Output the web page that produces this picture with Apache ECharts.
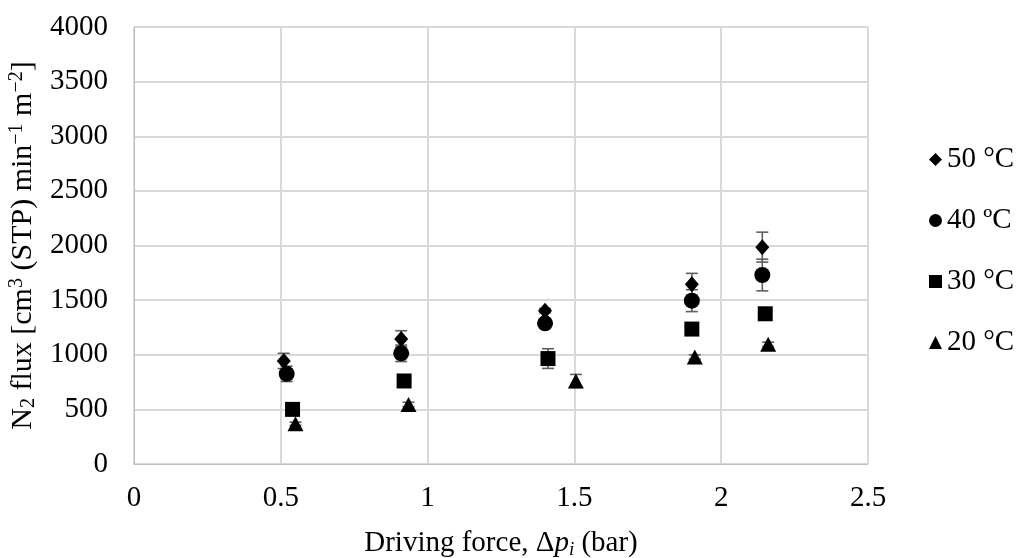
<!DOCTYPE html>
<html><head><meta charset="utf-8">
<script src="https://cdn.jsdelivr.net/npm/echarts@6/dist/echarts.min.js"></script>
<style>html,body{margin:0;padding:0;background:#fff}#c{width:1022px;height:558px}</style>
</head><body><div id="c"></div>
<script>
const seriesNames = ['50 °C', '40 ºC', '30 °C', '20 °C'];
const x50 = [0.51, 0.91, 1.40, 1.90, 2.14];
const y50 = [943, 1145, 1403, 1645, 1985];
const e50 = [70, 75, 20, 100, 137];
const x40 = [0.52, 0.91, 1.40, 1.90, 2.14];
const y40 = [825, 1013, 1288, 1495, 1730];
const e40 = [70, 75, 20, 100, 145];
const x30 = [0.54, 0.92, 1.41, 1.90, 2.15];
const y30 = [500, 760, 965, 1235, 1375];
const e30 = [20, 20, 90, 20, 20];
const x20 = [0.55, 0.935, 1.505, 1.91, 2.16];
const y20 = [368, 545, 760, 980, 1095];
const e20 = [15, 20, 60, 20, 20];
const xTicks = [0, 0.5, 1, 1.5, 2, 2.5];
const yTicks = [0, 500, 1000, 1500, 2000, 2500, 3000, 3500, 4000];

const groups = [
  {name: seriesNames[0], x: x50, y: y50, e: e50, symbol: 'diamond', size: [14, 16]},
  {name: seriesNames[1], x: x40, y: y40, e: e40, symbol: 'circle', size: 16},
  {name: seriesNames[2], x: x30, y: y30, e: e30, symbol: 'rect', size: 15},
  {name: seriesNames[3], x: x20, y: y20, e: e20, symbol: 'triangle', size: [16, 15]}
];
const font = 'Liberation Serif';
const FS = 29;
const series = [];
groups.forEach(g => {
  series.push({
    type: 'custom', name: g.name + '_err', z: 1, silent: true,
    data: g.x.map((v, i) => [v, g.y[i] - g.e[i], g.y[i] + g.e[i]]),
    renderItem: function (params, api) {
      const lo = api.coord([api.value(0), api.value(1)]);
      const hi = api.coord([api.value(0), api.value(2)]);
      const w = 6;
      const st = {stroke: '#5f5f5f', lineWidth: 1.6};
      return {type: 'group', children: [
        {type: 'line', shape: {x1: lo[0], y1: lo[1], x2: hi[0], y2: hi[1]}, style: st},
        {type: 'line', shape: {x1: lo[0] - w, y1: lo[1], x2: lo[0] + w, y2: lo[1]}, style: st},
        {type: 'line', shape: {x1: hi[0] - w, y1: hi[1], x2: hi[0] + w, y2: hi[1]}, style: st}
      ]};
    }
  });
  series.push({
    type: 'scatter', name: g.name, symbol: g.symbol, symbolSize: g.size, z: 3,
    itemStyle: {color: '#000', opacity: 1},
    data: g.x.map((v, i) => [v, g.y[i]])
  });
});

const chart = echarts.init(document.getElementById('c'), null, {renderer: 'canvas'});
chart.setOption({
  animation: false,
  backgroundColor: '#fff',
  textStyle: {fontFamily: font},
  grid: {left: 134, right: 154, top: 27, bottom: 94, containLabel: false, outerBoundsMode: 'none'},
  legend: {
    orient: 'vertical', left: 924, top: 140, itemGap: 32,
    itemWidth: 13, itemHeight: 13,
    data: groups.map(g => ({name: g.name, icon: g.symbol})),
    textStyle: {fontFamily: font, fontSize: FS, color: '#000', padding: [0, 0, 0, 0]}
  },
  xAxis: {
    type: 'value', min: xTicks[0], max: xTicks[xTicks.length - 1], interval: 0.5,
    axisLine: {show: true, lineStyle: {color: '#bfbfbf', width: 1}},
    axisTick: {show: false},
    splitLine: {show: true, lineStyle: {color: '#d9d9d9', width: 2}},
    axisLabel: {fontFamily: font, fontSize: FS, color: '#000', margin: 20},
    name: '{n|Driving force, Δ}{i|p}{s|i}{n| (bar)}',
    nameLocation: 'middle', nameGap: 64,
    nameTextStyle: {rich: {
      n: {fontFamily: font, fontSize: FS, color: '#000'},
      i: {fontFamily: font, fontSize: FS, color: '#000', fontStyle: 'italic'},
      s: {fontFamily: font, fontSize: 19, color: '#000', fontStyle: 'italic', padding: [12, 0, 0, 0]}
    }}
  },
  yAxis: {
    type: 'value', min: 0, max: 4000, interval: 500,
    axisLine: {show: true, lineStyle: {color: '#bfbfbf', width: 1}},
    axisTick: {show: false},
    splitLine: {show: true, lineStyle: {color: '#d9d9d9', width: 2}},
    axisLabel: {fontFamily: font, fontSize: FS, color: '#000', margin: 26, formatter: v => String(v)},
    name: '{n|N}{b|2}{n| flux [cm}{t|3}{n| (STP) min}{t|−1}{n| m}{t|−2}{n|]}',
    nameLocation: 'middle', nameGap: 87, nameRotate: 90,
    nameTextStyle: {rich: {
      n: {fontFamily: font, fontSize: 30, color: '#000'},
      t: {fontFamily: font, fontSize: 20, color: '#000', padding: [0, 0, 12, 0]},
      b: {fontFamily: font, fontSize: 20, color: '#000', padding: [12, 0, 0, 0]}
    }}
  },
  series: series
});
</script></body></html>
